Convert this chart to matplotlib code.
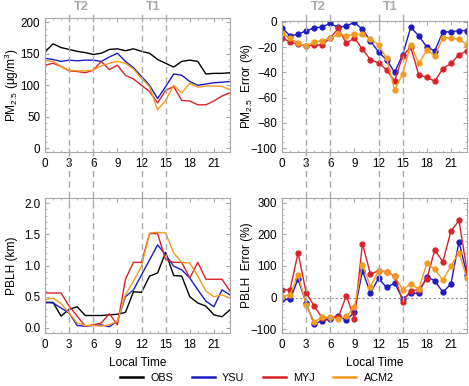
import matplotlib
matplotlib.use("Agg")
import matplotlib.pyplot as plt
from matplotlib.lines import Line2D
from matplotlib.ticker import MultipleLocator, FormatStrFormatter
import matplotlib.transforms as mtransforms

plt.rcParams["font.family"] = ["Liberation Sans", "DejaVu Sans"]
plt.rcParams["mathtext.fontset"] = "custom"
plt.rcParams["mathtext.rm"] = "Liberation Sans"
plt.rcParams["mathtext.it"] = "Liberation Sans:italic"
plt.rcParams["mathtext.bf"] = "Liberation Sans:bold"

hours = list(range(24))

# PM2.5 concentration (ug/m3)
pm_obs = [153, 166, 160, 157, 154, 152, 149, 151, 157, 158, 155, 158, 154, 151, 141, 135, 129, 138, 140, 138, 118, 119, 119, 120]
pm_ysu = [143, 141, 138, 140, 139, 140, 140, 138, 145, 151, 138, 128, 114, 100, 79, 98, 118, 116, 106, 100, 102, 104, 105, 106]
pm_myj = [132, 135, 130, 123, 122, 120, 124, 138, 125, 132, 116, 110, 100, 90, 72, 92, 98, 76, 75, 69, 69, 75, 83, 88]
pm_acm2 = [139, 138, 130, 124, 123, 123, 124, 131, 135, 138, 135, 126, 111, 98, 61, 76, 100, 88, 103, 97, 99, 99, 98, 93]

# PM2.5 error (%)
pme_ysu = [-5, -11, -10, -7, -5, -4, -1.3, -4.5, -3.2, -0.5, -6, -15, -24, -30, -40, -26, -4.5, -11, -20, -23, -8, -8, -7, -7]
pme_myj = [-12.7, -16, -17.7, -19, -18.5, -18.5, -12.7, -5.3, -17, -12.7, -21.7, -30, -32.5, -38, -47, -27, -20, -42, -44, -47, -37, -33, -26, -23]
pme_acm2 = [-9, -13, -17, -19, -16, -15, -13, -10, -11, -10, -10, -14, -18, -29, -54, -41, -18, -33, -22.5, -27, -12.5, -13, -14, -18]

# PBLH (km)
pb_obs = [0.41, 0.41, 0.19, 0.30, 0.34, 0.20, 0.20, 0.20, 0.21, 0.22, 0.25, 0.58, 0.57, 0.83, 0.88, 1.21, 0.84, 0.83, 0.50, 0.40, 0.35, 0.21, 0.18, 0.29]
pb_ysu = [0.41, 0.40, 0.32, 0.24, 0.04, 0.03, 0.04, 0.05, 0.02, 0.11, 0.50, 0.61, 0.85, 1.09, 1.33, 1.17, 0.99, 0.93, 0.80, 0.61, 0.43, 0.34, 0.61, 0.53]
pb_myj = [0.56, 0.56, 0.56, 0.35, 0.19, 0.03, 0.05, 0.08, 0.23, 0.05, 0.78, 1.05, 1.05, 1.51, 1.51, 1.09, 1.05, 1.05, 0.80, 1.05, 0.78, 0.78, 0.78, 0.59]
pb_acm2 = [0.45, 0.48, 0.39, 0.24, 0.08, 0.04, 0.04, 0.03, 0.05, 0.11, 0.53, 0.75, 0.99, 1.52, 1.53, 1.52, 1.20, 1.05, 1.04, 0.83, 0.59, 0.50, 0.53, 0.48]

# PBLH error (%)
pbe_ysu = [-6, -6, 59, -18, -83, -74, -67, -57, -72, -46, 85, 14, 61, 32, 46, -4, 14, 14, 66, 53, 17, 43, 177, 71]
pbe_myj = [25, 25, 142, 15, -27, -64, -64, -62, 6, -67, 171, 74, 85, 82, 67, -13, 22, 25, 59, 151, 113, 210, 244, 85]
pbe_acm2 = [3, 9, 72, -23, -77, -62, -62, -69, -59, -30, 103, 35, 85, 80, 69, 25, 43, 27, 108, 90, 55, 100, 142, 61]

series_names = ["OBS", "YSU", "MYJ", "ACM2"]

c_obs = "black"
c_ysu = "#1c1cc4"
c_myj = "#d8232a"
c_acm2 = "#f49a1e"

W, H = 469, 386
fig = plt.figure(figsize=(W / 100, H / 100), dpi=100)

def rect(l, r, t, b):
    return [l / W, (H - b) / H, (r - l) / W, (b - t) / H]

ax_tl = fig.add_axes(rect(45, 230, 18, 152))
ax_tr = fig.add_axes(rect(282, 467, 20.5, 152))
ax_bl = fig.add_axes(rect(45, 230, 198, 333))
ax_br = fig.add_axes(rect(282, 467, 198, 333))

fs = 8.4
lfs = 8.6
spine_c = "#a8a8a8"
for ax in (ax_tl, ax_tr, ax_bl, ax_br):
    ax.set_xlim(0, 23)
    ax.xaxis.set_major_locator(MultipleLocator(3))
    ax.xaxis.set_minor_locator(MultipleLocator(1))
    for s in ax.spines.values():
        s.set_color(spine_c)
        s.set_linewidth(0.8)
    ax.tick_params(which="both", direction="in", top=True, right=True,
                   color=spine_c, labelsize=fs)
    ax.tick_params(axis="y", pad=3.5)
    ax.tick_params(axis="x", pad=4)
    ax.tick_params(which="major", length=3)
    ax.tick_params(which="minor", length=1.5)

lw = 1.0
ax_tl.plot(hours, pm_obs, color=c_obs, lw=lw)
ax_tl.plot(hours, pm_ysu, color=c_ysu, lw=lw)
ax_tl.plot(hours, pm_myj, color=c_myj, lw=lw)
ax_tl.plot(hours, pm_acm2, color=c_acm2, lw=lw)
ax_tl.set_ylim(-6, 207)
ax_tl.yaxis.set_major_locator(MultipleLocator(50))
ax_tl.yaxis.set_minor_locator(MultipleLocator(10))
ax_tl.set_ylabel("PM$_{2.5}$ (μg/m$^3$)", fontsize=lfs)
ax_tl.yaxis.set_label_coords(-0.13, 0.5)

ms = 3.5
ax_tr.plot(hours, pme_ysu, color=c_ysu, lw=lw, marker="o", ms=ms)
ax_tr.plot(hours, pme_myj, color=c_myj, lw=lw, marker="o", ms=ms)
ax_tr.plot(hours, pme_acm2, color=c_acm2, lw=lw, marker="o", ms=ms)
ax_tr.set_ylim(-103, 1)
ax_tr.yaxis.set_major_locator(MultipleLocator(20))
ax_tr.yaxis.set_minor_locator(MultipleLocator(5))
ax_tr.set_ylabel("PM$_{2.5}$  Error (%)", fontsize=lfs)
ax_tr.yaxis.set_label_coords(-0.145, 0.5)

ax_bl.plot(hours, pb_obs, color=c_obs, lw=lw)
ax_bl.plot(hours, pb_ysu, color=c_ysu, lw=lw)
ax_bl.plot(hours, pb_myj, color=c_myj, lw=lw)
ax_bl.plot(hours, pb_acm2, color=c_acm2, lw=lw)
ax_bl.set_ylim(-0.08, 2.08)
ax_bl.yaxis.set_major_locator(MultipleLocator(0.5))
ax_bl.yaxis.set_minor_locator(MultipleLocator(0.1))
ax_bl.yaxis.set_major_formatter(FormatStrFormatter("%.1f"))
ax_bl.set_ylabel("PBLH (km)", fontsize=lfs)
ax_bl.yaxis.set_label_coords(-0.145, 0.5)
ax_bl.set_xlabel("Local Time", fontsize=lfs, labelpad=5)

ax_br.axhline(0, color="#909090", lw=0.8, ls=(0, (2, 2)))
ax_br.plot(hours, pbe_ysu, color=c_ysu, lw=lw, marker="o", ms=ms)
ax_br.plot(hours, pbe_myj, color=c_myj, lw=lw, marker="o", ms=ms)
ax_br.plot(hours, pbe_acm2, color=c_acm2, lw=lw, marker="o", ms=ms)
ax_br.set_ylim(-112, 315)
ax_br.yaxis.set_major_locator(MultipleLocator(100))
ax_br.yaxis.set_minor_locator(MultipleLocator(20))
ax_br.set_ylabel("PBLH  Error (%)", fontsize=lfs)
ax_br.yaxis.set_label_coords(-0.155, 0.5)
ax_br.set_xlabel("Local Time", fontsize=lfs, labelpad=5)

# vertical dashed period lines spanning both rows
events = [3, 6, 12, 15]
periods = [(4.5, "T2"), (13.5, "T1")]
y_top = 1 - 13 / H
y_bot = 1 - 333 / H
for ax in (ax_tl, ax_tr):
    tr = mtransforms.blended_transform_factory(ax.transData, fig.transFigure)
    for xv in events:
        fig.add_artist(Line2D([xv, xv], [y_bot, y_top], transform=tr,
                              color="#ababab", lw=1.0, ls=(0, (4.5, 3)), zorder=5))
    for xv, lab in periods:
        fig.text(xv, 1 - 7.5 / H, lab, transform=tr, ha="center", va="center",
                 fontsize=9.2, fontweight="bold", color="#a8a8a8")

handles = [Line2D([], [], color=c, lw=1.8) for c in (c_obs, c_ysu, c_myj, c_acm2)]
fig.legend(handles, series_names, loc="center", ncol=4,
           bbox_to_anchor=(257 / W, 1 - 378 / H), frameon=False, fontsize=7.8,
           handlelength=2.1, columnspacing=1.7, handletextpad=0.7,
           borderpad=0, borderaxespad=0)

fig.savefig("out.png", dpi=100)
